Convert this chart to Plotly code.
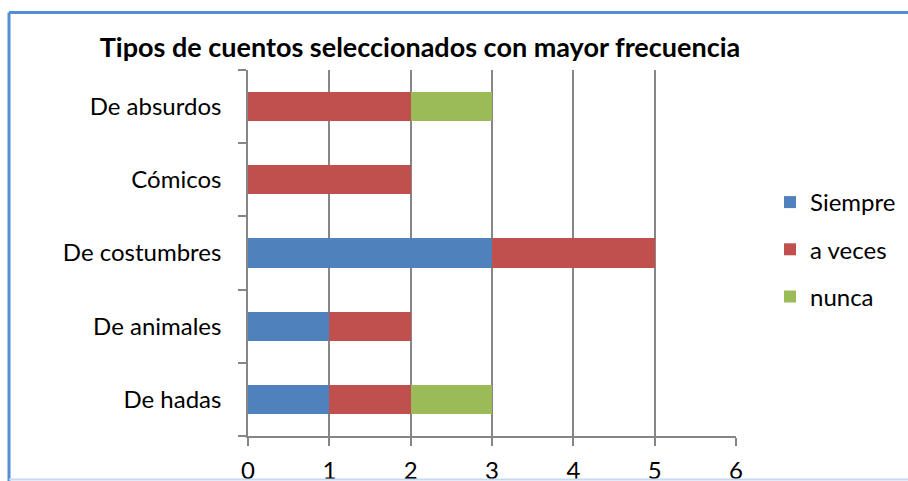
import plotly.graph_objects as go

categories = ["De hadas", "De animales", "De costumbres", "Cómicos", "De absurdos"]
siempre = [1, 1, 3, 0, 0]
a_veces = [1, 1, 2, 2, 2]
nunca = [1, 0, 0, 0, 1]
series_names = ["Siempre", "a veces", "nunca"]
colors = ["#4F81BD", "#C0504D", "#9BBB59"]
x_ticks = [0, 1, 2, 3, 4, 5, 6]

FONT = "Lato, 'Open Sans', sans-serif"

fig = go.Figure()
for name, vals, col in zip(series_names, [siempre, a_veces, nunca], colors):
    fig.add_trace(go.Bar(
        y=categories, x=vals, name=name, orientation="h",
        marker=dict(color=col, line=dict(width=0)),
        legendgroup=name,
    ))

W, H = 908, 481
L, R, T, B = 248, 172, 70, 45
pw, ph = W - L - R, H - T - B

def px(x):  # page pixel -> paper
    return (x - L) / pw

def py(y):
    return (H - B - y) / ph

fig.update_layout(
    width=W, height=H,
    margin=dict(l=L, r=R, t=T, b=B, autoexpand=False),
    paper_bgcolor="white", plot_bgcolor="white",
    barmode="stack", bargap=0.6,
    font=dict(family=FONT, size=24, color="#000000"),
    title=dict(text="<b>Tipos de cuentos seleccionados con mayor frecuencia</b>",
               x=420 / W, xref="container", xanchor="center",
               y=1 - 48 / H, yref="container", yanchor="middle",
               font=dict(family=FONT, size=27, color="#000000")),
    xaxis=dict(range=[0, 6], tickvals=x_ticks, showgrid=True, gridcolor="#868686",
               gridwidth=1.5, zeroline=False, showline=True, linecolor="#868686",
               linewidth=1.5, ticks="outside", ticklen=8, tickcolor="#868686",
               tickwidth=1.5, ticklabelstandoff=4, fixedrange=True),
    yaxis=dict(categoryorder="array", categoryarray=categories, showgrid=False,
               zeroline=False, showline=True, linecolor="#868686", linewidth=1.5,
               ticks="outside", ticklen=8, tickcolor="#868686", tickwidth=1.5,
               tickson="boundaries", ticklabelstandoff=20, fixedrange=True,
               range=[-0.5, 4.5]),
    legend=dict(x=px(770), y=py(180), xanchor="left", yanchor="top",
                traceorder="grouped", tracegroupgap=13,
                font=dict(family=FONT, size=24, color="#000000"),
                bgcolor="rgba(0,0,0,0)"),
    shapes=[
        dict(type="line", xref="paper", yref="paper", x0=px(9), x1=px(920),
             y0=py(12.5), y1=py(12.5), line=dict(color="#558ED5", width=3)),
        dict(type="line", xref="paper", yref="paper", x0=px(9), x1=px(9),
             y0=py(12.5), y1=py(490), line=dict(color="#558ED5", width=3)),
        dict(type="line", xref="paper", yref="paper", x0=px(9), x1=px(920),
             y0=py(479.5), y1=py(479.5), line=dict(color="#C6D9F1", width=2)),
    ],
)

fig.write_html(
    "out.html",
    config={"displayModeBar": False},
    post_script="document.body.style.margin='0';"
                "document.documentElement.style.overflow='hidden';"
                "document.body.style.overflow='hidden';",
)
